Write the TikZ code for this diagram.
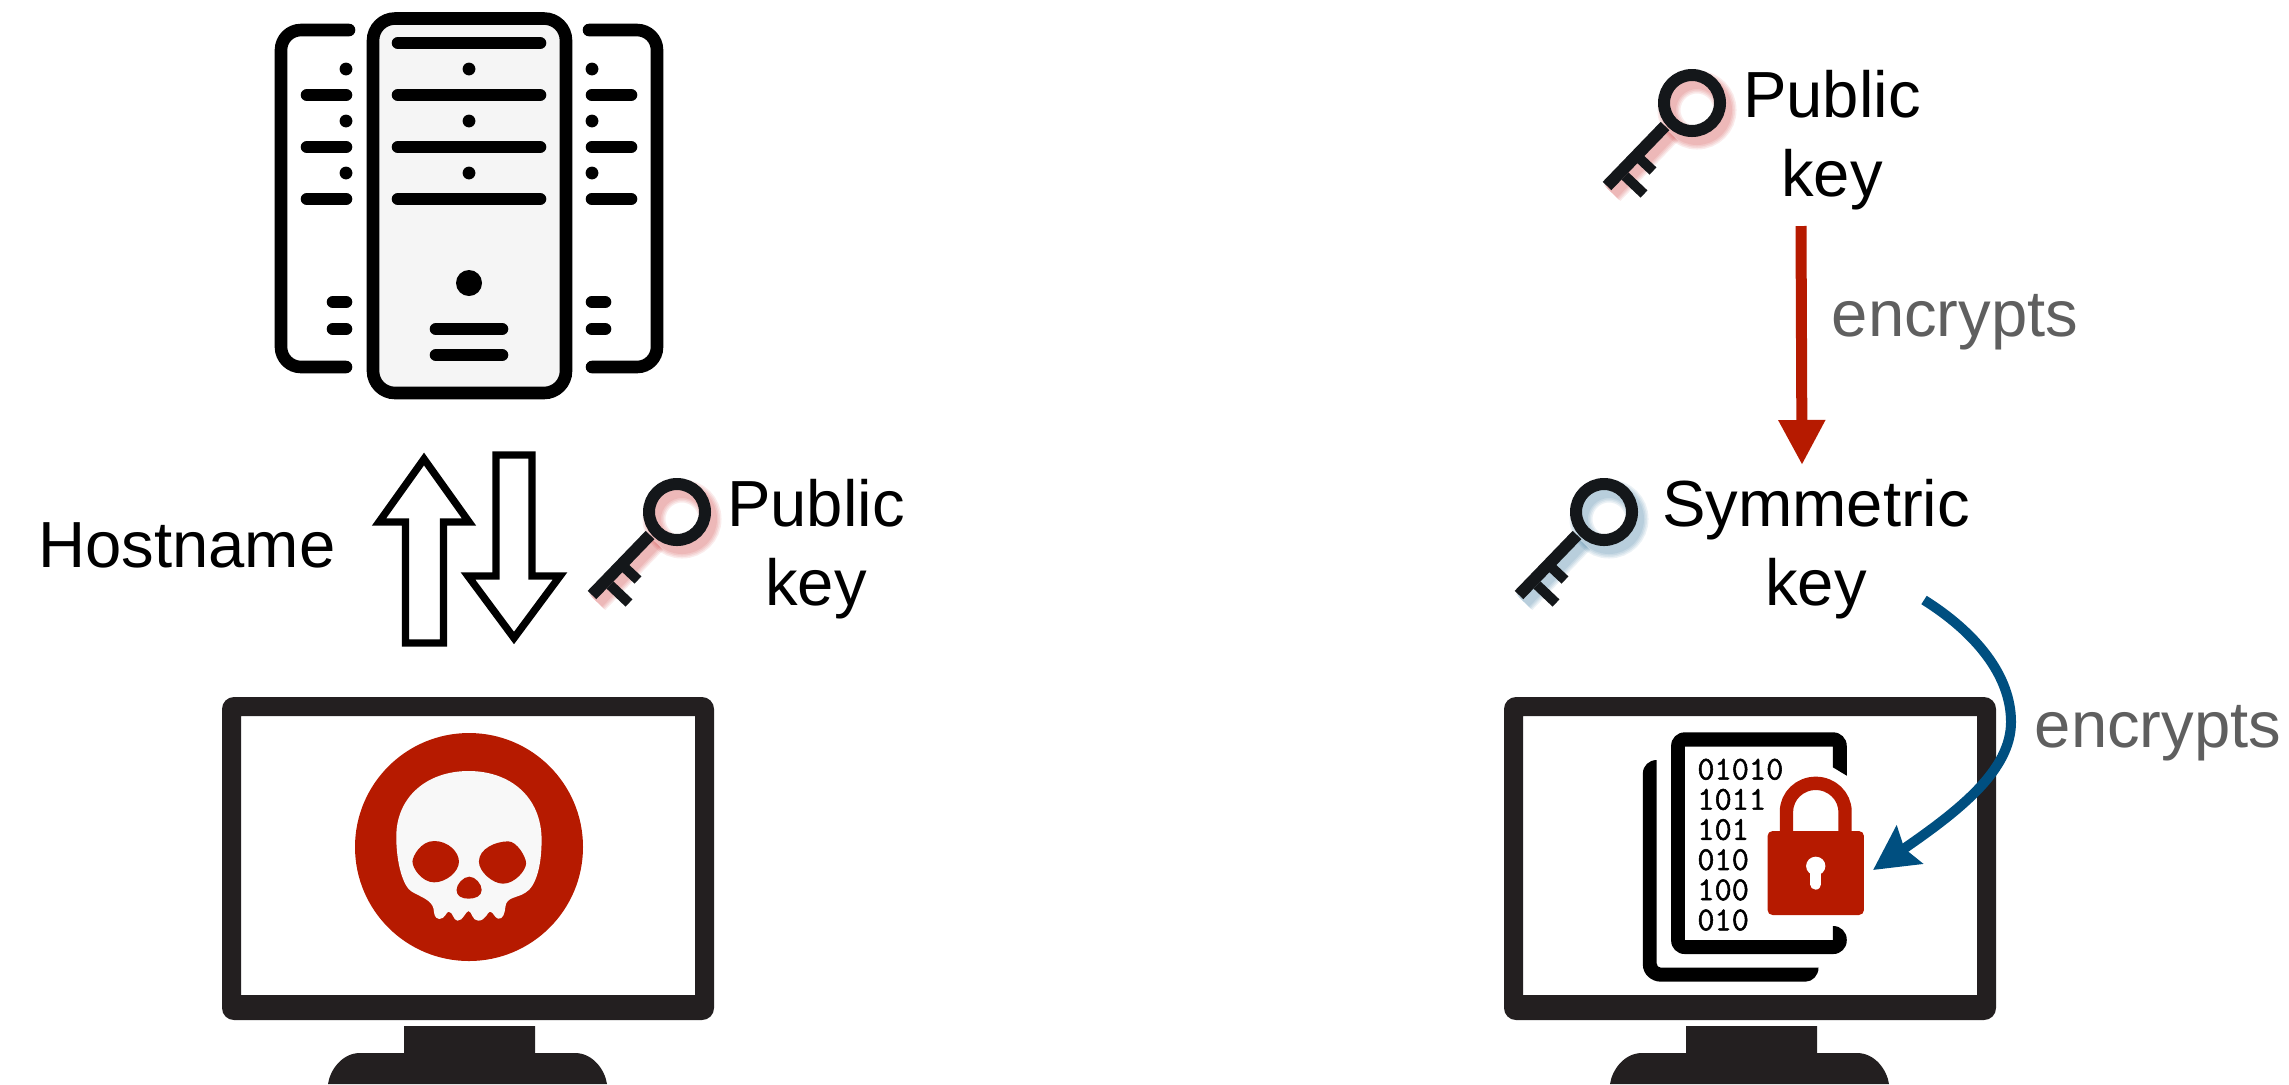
\documentclass[tikz,border=0pt]{standalone}
\usepackage{fontspec}
\setmainfont{Liberation Sans}
\newfontfamily\bitsfont[FakeBold=1.6]{Latin Modern Mono}
\usetikzlibrary{arrows.meta}
\definecolor{iconblack}{HTML}{000000}
\definecolor{screenblack}{HTML}{231F20}
\definecolor{keyblack}{HTML}{14171A}
\definecolor{alertred}{HTML}{B61A00}
\definecolor{cryptblue}{HTML}{004F80}
\definecolor{notegrey}{HTML}{5F5F5F}
\definecolor{towergrey}{HTML}{F5F5F5}
\definecolor{skullwhite}{HTML}{F8F8F8}
\tikzset{
	bigtext/.style={inner sep=0pt,align=center,font=\fontsize{32.6}{39.5}\selectfont},
	notetext/.style={bigtext,text=notegrey},
	bitstext/.style={inner sep=0pt,align=left,anchor=north west,font=\fontsize{16.7}{15.07}\selectfont\bitsfont},
	rackline/.style={line width=6.3pt,line cap=round,iconblack},
	hollowarrow/.style={line width=3.7pt,miter limit=10,fill=white,draw=iconblack},
	pics/keyicon/.style={code={
		\foreach \w in {11,8,5,2}{
			\begin{scope}[shift={(5,7)},#1,opacity=0.08,line width=6pt+\w*0.5pt]
				\draw (0,0) circle (28);
				\draw (-27,23) -- (-85,83);
			\end{scope}
		}
		\draw[keyblack,line width=6pt] (0,0) circle (28);
		\draw[keyblack,line width=6pt] (-27,23) -- (-85,83);
		\draw[keyblack,line width=5pt] (-55,53) -- (-39,68);
		\draw[keyblack,line width=5pt] (-67,73) -- (-48,91);
	}},
	pics/monitor/.style={code={
		\fill[screenblack,even odd rule,rounded corners=6pt] (222,697) -- (714,697) -- (714,1020) -- (222,1020) -- cycle
			[sharp corners] (241,716) rectangle (695,995);
		\fill[screenblack] (404,1026) -- (535,1026) -- (535,1053) -- (575,1053)
			.. controls (593,1053) and (605,1070) .. (607,1084) -- (328,1084)
			.. controls (330,1070) and (342,1053) .. (360,1053) -- (404,1053) -- cycle;
	}}
}
\begin{document}
\begin{tikzpicture}[x=0.5pt,y=-0.5pt,>=Stealth]
	\useasboundingbox (0,0) rectangle (2289,1084);

	% server
	\draw[line width=6.3pt,fill=towergrey,rounded corners=11pt] (373,18.5) rectangle (566,393);
	\foreach \y in {43,95,147,199}
		\draw[rackline] (398,\y) -- (540,\y);
	\foreach \y in {69,121,173}
		\fill (469,\y) circle (6.4);
	\fill (469,283) circle (13);
	\foreach \y in {329,355}
		\draw[rackline] (436,\y) -- (502,\y);
	\foreach \s/\m in {1/0,-1/938}{
		\begin{scope}[shift={(\m,0)},xscale=\s]
			\draw[rackline,rounded corners=10pt] (349,30) -- (281,30) -- (281,367) -- (346,367);
			\foreach \y in {95,147,199}
				\draw[rackline] (307,\y) -- (346,\y);
			\foreach \y in {69,121,173}
				\fill (346,\y) circle (6.4);
			\foreach \y in {302,329}
				\draw[rackline] (333,\y) -- (346,\y);
		\end{scope}
	}

	% request and answer
	\draw[hollowarrow] (424,459) -- (469,522) -- (443.5,522) -- (443.5,643) -- (405.5,643) -- (405.5,522) -- (379,522) -- cycle;
	\draw[hollowarrow] (514,638) -- (468,576) -- (496,576) -- (496,455) -- (532,455) -- (532,576) -- (560,576) -- cycle;
	\node[bigtext] (hostname) at (187,545) {Hostname};
	\node[bigtext] (pubkeyL) at (816,549) {Public\\key};
	\pic at (677,512) {keyicon={red!75!black}};

	% attacker monitor
	\pic at (0,0) {monitor};
	\fill[alertred] (469,847) circle (114);
	\begin{scope}[shift={(200,680)},xscale=1/2.904,yscale=1/3]
		\fill[skullwhite] (780,273) .. controls (900,273) and (992,350) .. (992,480)
			.. controls (992,560) and (975,620) .. (945,638)
			.. controls (920,655) and (890,650) .. (887,680)
			.. controls (885,700) and (880,718) .. (866,716)
			.. controls (855,714) and (852,695) .. (842,695)
			.. controls (835,695) and (830,722) .. (808,722)
			.. controls (790,722) and (790,695) .. (780,693)
			.. controls (770,695) and (765,722) .. (748,722)
			.. controls (735,722) and (735,695) .. (722,695)
			.. controls (715,695) and (712,717) .. (695,717)
			.. controls (680,715) and (680,700) .. (678,685)
			.. controls (672,660) and (640,650) .. (615,635)
			.. controls (590,620) and (570,550) .. (570,470)
			.. controls (570,350) and (660,273) .. (780,273) -- cycle;
		\fill[alertred] (680,483) .. controls (720,483) and (752,515) .. (752,545)
			.. controls (752,575) and (715,607) .. (680,607)
			.. controls (645,607) and (617,565) .. (617,545)
			.. controls (617,530) and (640,483) .. (680,483) -- cycle;
		\fill[alertred] (895,484) .. controls (920,484) and (947,530) .. (947,550)
			.. controls (947,570) and (915,611) .. (880,611)
			.. controls (850,611) and (810,575) .. (810,545)
			.. controls (810,505) and (860,484) .. (895,484) -- cycle;
		\fill[alertred] (782,590) .. controls (800,590) and (818,612) .. (818,630)
			.. controls (818,648) and (800,656) .. (780,656)
			.. controls (760,656) and (745,648) .. (745,630)
			.. controls (745,612) and (765,590) .. (782,590) -- cycle;
	\end{scope}

	% right side keys
	\node[bigtext] (pubkeyR) at (1832,140) {Public\\key};
	\pic at (1692,103) {keyicon={red!75!black}};
	\node[bigtext] (symkey) at (1816,549) {Symmetric\\key};
	\pic at (1604,512) {keyicon={cryptblue}};
	\node[notetext] (encryptsA) at (1955,322) {encrypts};
	\node[notetext] (encryptsB) at (2158,733) {encrypts};

	% victim monitor
	\pic at (1282,0) {monitor};
	\begin{scope}[shift={(1480,680)},xscale=1/2.904,yscale=1/3]
		\fill[iconblack,rounded corners=6.7pt] (1065,287) -- (1065,157) -- (555,157) -- (555,822) -- (1065,822) -- (1065,738)
			[sharp corners] -- (1025,738) -- (1025,780) -- (595,780) -- (595,200) -- (1025,200) -- (1025,262) -- cycle;
		\fill[iconblack] (513,240) .. controls (490,240) and (473,258) .. (473,280) -- (473,855)
			.. controls (473,882) and (497,905) .. (525,905) -- (945,905)
			.. controls (966,905) and (983,886) .. (983,863) -- (525,863)
			.. controls (518,863) and (513,857) .. (513,850) -- cycle;
		\node[bitstext] (bits) at (630,235) {01010\\1011\\101\\010\\100\\010};
		\draw[white,line width=10pt] (890,453) -- (890,395) .. controls (890,348) and (928,310) .. (975,310)
			.. controls (1022,310) and (1060,348) .. (1060,395) -- (1060,453);
		\draw[alertred,line width=6.7pt] (890,453) -- (890,395) .. controls (890,348) and (928,310) .. (975,310)
			.. controls (1022,310) and (1060,348) .. (1060,395) -- (1060,453);
		\fill[alertred,rounded corners=2.5pt] (835,453) rectangle (1115,705);
		\fill[white] (975,558) ellipse (28 and 28);
		\draw[white,line width=5.3pt,line cap=round] (975,570) -- (975,613);
	\end{scope}

	% encryption arrows
	\coordinate (redfrom) at (1801,226);
	\coordinate (redto) at (1802,465);
	\coordinate (bluefrom) at (1924,600);
	\coordinate (blueto) at (1873,870);
	\draw[->,alertred,line width=5.5pt,>={Triangle[length=22.5pt,width=22pt]}] (redfrom) -- (redto);
	\draw[->,cryptblue,line width=5pt,>={Stealth[length=22pt,width=22.5pt,inset=3pt]}] (bluefrom)
		.. controls (1975,632) and (2011,675) .. (2011,722)
		.. controls (2011,770) and (1960,810) .. (blueto);
\end{tikzpicture}
\end{document}
